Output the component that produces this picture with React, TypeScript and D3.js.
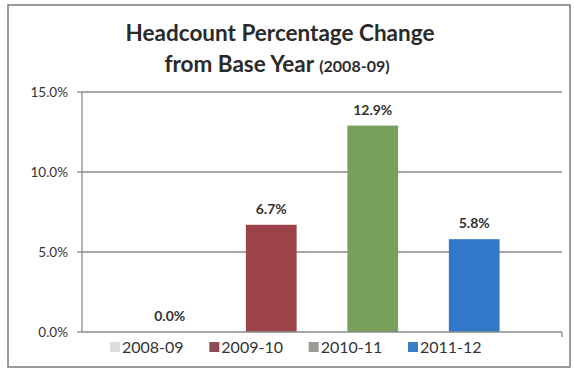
import React from "react";
import * as d3 from "d3";

const categories = ["2008-09", "2009-10", "2010-11", "2011-12"];
const values = [0.0, 6.7, 12.9, 5.8];
const colors = ["#d4d4d4", "#9b4348", "#79a05a", "#2f79c8"];
const legendColors = ["#dcdcdc", "#8f4a52", "#9a9a96", "#3a7cc8"];
const yTicks = [0, 5, 10, 15];
const titleLine1 = "Headcount Percentage Change";
const titleLine2a = "from Base Year";
const titleLine2b = "(2008-09)";

const W = 574;
const H = 369;
const FONT = "Lato, 'Open Sans', sans-serif";

export default function App() {
  const y = d3.scaleLinear().domain([0, 15]).range([332, 92]);
  const x = d3
    .scaleBand<string>()
    .domain(categories)
    .range([82, 562])
    .paddingInner(0.5)
    .paddingOuter(0.615);
  const legendX = d3.scaleLinear().domain([0, 3]).range([110, 408]);
  const fmt = (v: number) => d3.format(".1f")(v) + "%";
  const left = 82;
  const right = 562;

  return (
    <svg
      width={W}
      height={H}
      style={{ position: "absolute", left: 0, top: 0, background: "#fff" }}
      fontFamily={FONT}
    >
      <rect x={0} y={0} width={W} height={H} fill="#fff" />
      {/* outer border */}
      <rect x={8} y={5} width={562} height={362} fill="none" stroke="#7a7a7a" strokeWidth={1.5} />

      {/* title */}
      <text x={280} y={41} textAnchor="middle" fontSize={22.5} fontWeight="bold" fill="#2a2a2a">
        {titleLine1}
      </text>
      <text x={277} y={72} textAnchor="middle" fontWeight="bold" fill="#2a2a2a">
        <tspan fontSize={22.5}>{titleLine2a} </tspan>
        <tspan fontSize={16}>{titleLine2b}</tspan>
      </text>

      {/* gridlines */}
      {yTicks.map((t) => (
        <g key={t}>
          {t > 0 && (
            <line x1={left} x2={right} y1={y(t)} y2={y(t)} stroke="#8a8a8a" strokeWidth={1.3} />
          )}
          <line x1={left - 5} x2={left} y1={y(t)} y2={y(t)} stroke="#8a8a8a" strokeWidth={1.3} />
          <text
            x={68}
            y={y(t)}
            dy="0.35em"
            textAnchor="end"
            fontSize={13.5}
            fill="#333"
          >
            {fmt(t)}
          </text>
        </g>
      ))}

      {/* bars */}
      {categories.map((c, i) => (
        <rect
          key={c}
          x={x(c)}
          y={y(values[i])}
          width={x.bandwidth()}
          height={y(0) - y(values[i])}
          fill={colors[i]}
        />
      ))}

      {/* axes */}
      <line x1={left} x2={left} y1={y(15)} y2={y(0)} stroke="#8a8a8a" strokeWidth={1.3} />
      <line x1={left} x2={right} y1={y(0)} y2={y(0)} stroke="#8a8a8a" strokeWidth={1.3} />
      <line x1={right} x2={right} y1={y(0)} y2={y(0) + 5} stroke="#8a8a8a" strokeWidth={1.3} />

      {/* data labels */}
      {categories.map((c, i) => (
        <text
          key={c}
          x={(x(c) as number) + x.bandwidth() / 2}
          y={y(values[i]) - 11}
          textAnchor="middle"
          fontSize={14}
          fontWeight="bold"
          fill="#333"
        >
          {fmt(values[i])}
        </text>
      ))}

      {/* legend */}
      {categories.map((c, i) => (
        <g key={c} transform={`translate(${legendX(i)},347)`}>
          <rect x={0} y={-5} width={10} height={10} fill={legendColors[i]} />
          <text x={12} y={0} dy="0.35em" fontSize={16} fill="#333">
            {c}
          </text>
        </g>
      ))}
    </svg>
  );
}
